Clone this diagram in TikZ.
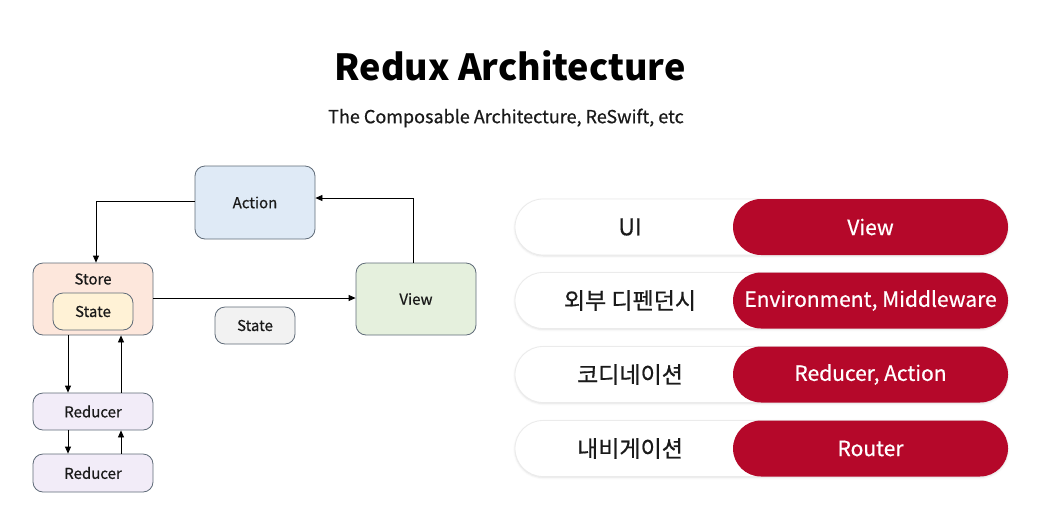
\documentclass[tikz,border=0pt]{standalone}
\usepackage{fontspec}
\setmainfont{Noto Sans CJK KR}
\usetikzlibrary{arrows.meta,positioning,calc,shadows.blur}
\definecolor{bordc}{HTML}{5F6B78}
\definecolor{actfill}{HTML}{DFEAF6}
\definecolor{storefill}{HTML}{FDE7DC}
\definecolor{statefill}{HTML}{FFF2D6}
\definecolor{viewfill}{HTML}{E5F0DD}
\definecolor{grayfill}{HTML}{F2F2F2}
\definecolor{redfill}{HTML}{F2ECF8}
\definecolor{pillred}{HTML}{B5082A}
\definecolor{txt}{HTML}{1A1A1A}
\newfontfamily\medfont[FakeBold=0.6]{Noto Sans CJK KR}
\tikzset{
  box/.style={draw=bordc, line width=0.8pt, rounded corners=10pt, inner sep=0pt, text=txt, font=\medfont\fontsize{15}{18}\selectfont},
  arr/.style={-{Triangle[length=7pt,width=6pt]}, line width=0.8pt, draw=black},
  wpill/.style={fill=white, draw=black!8, line width=0.8pt, rounded corners=28pt, minimum height=56pt, inner sep=0pt, blur shadow={shadow blur steps=6, shadow xshift=0pt, shadow yshift=-1pt, shadow opacity=12}},
  rpill/.style={fill=pillred, rounded corners=28pt, minimum height=56pt, inner sep=0pt, text=white, font=\medfont\fontsize{21}{24}\selectfont},
  plabel/.style={text=txt, font=\medfont\fontsize{23}{26}\selectfont},
}
\begin{document}
\begin{tikzpicture}[x=1pt,y=-1pt]
\useasboundingbox (0,0) rectangle (1046,512);
% titles
\node[font=\fontsize{36}{40}\selectfont\bfseries, text=black] (title) at (510,66) {Redux Architecture};
\node[font=\medfont\fontsize{18}{22}\selectfont, text=txt] (subtitle) at (506,118) {The Composable Architecture, ReSwift, etc};
% left diagram
\node[box, fill=actfill, minimum width=120pt, minimum height=73pt] (action) at (255,202.5) {Action};
\node[box, fill=storefill, minimum width=120pt, minimum height=72pt] (store) at (93,299) {};
\node[text=txt, font=\medfont\fontsize{15}{18}\selectfont] (storelbl) at (93,279) {Store};
\node[box, fill=statefill, minimum width=80pt, minimum height=37pt] (sstate) at (93,311.5) {State};
\node[box, fill=viewfill, minimum width=120pt, minimum height=72pt] (view) at (416,299) {View};
\node[box, fill=grayfill, minimum width=80pt, minimum height=37pt] (fstate) at (255,325.5) {State};
\node[box, fill=redfill, minimum width=120pt, minimum height=37pt] (red1) at (93,411.5) {Reducer};
\node[box, fill=redfill, minimum width=120pt, minimum height=38pt] (red2) at (93,473) {Reducer};
% connectors
\draw[arr] ([yshift=1.5pt]action.west) -| ([xshift=3pt]store.north);
\draw[arr] ([xshift=-3pt]view.north) |- ([yshift=4.5pt]action.east);
\draw[arr] ([yshift=1pt]store.east) -- ([yshift=1pt]view.west);
\draw[arr] ([xshift=-25pt]store.south) -- ([xshift=-25pt]red1.north);
\draw[arr] ([xshift=28pt]red1.north) -- ([xshift=28pt]store.south);
\draw[arr] ([xshift=-25pt]red1.south) -- ([xshift=-25pt]red2.north);
\draw[arr] ([xshift=28pt]red2.north) -- ([xshift=28pt]red1.south);
% right pills
\foreach \i/\yy/\la/\lb in {1/227/UI/View, 2/300.5/외부 디펜던시/{Environment, Middleware}, 3/374.5/코디네이션/{Reducer, Action}, 4/448.5/내비게이션/Router}{
  \node[wpill, minimum width=493pt] (wp\i) at (761.5,\yy) {};
  \node[rpill, minimum width=275pt] (rp\i) at (870.5,\yy) {\lb};
  \node[plabel] (pl\i) at (630,\yy) {\la};
}
\end{tikzpicture}
\end{document}
